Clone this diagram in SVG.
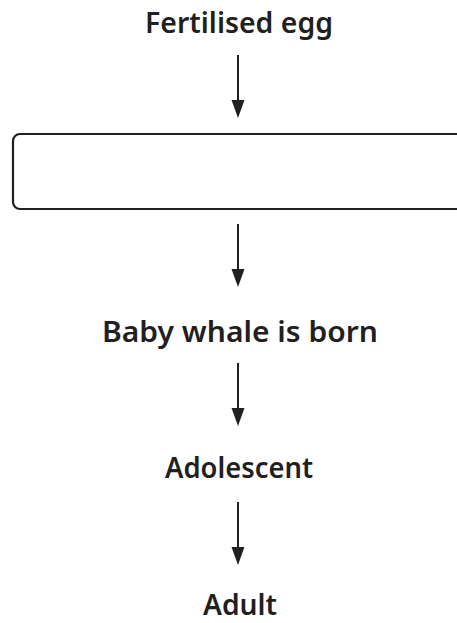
<svg xmlns="http://www.w3.org/2000/svg" width="457" height="623" viewBox="0 0 457 623">
<style>
.t{font-family:"Noto Sans","Open Sans",sans-serif;font-weight:600;font-size:28px;fill:#231f20;text-anchor:middle}
.c{stroke:#231f20;stroke-width:2;fill:none}
.h{fill:#231f20}
</style>
<rect width="457" height="623" fill="#fff"/>
<g id="n1"><text class="t" x="239" y="33" textLength="188" lengthAdjust="spacingAndGlyphs">Fertilised egg</text></g>
<g id="n2"><rect x="13" y="134" width="460" height="75" rx="7" fill="#fff" stroke="#231f20" stroke-width="2.2"/></g>
<g id="n3"><text class="t" x="240" y="342" textLength="276" lengthAdjust="spacingAndGlyphs">Baby whale is born</text></g>
<g id="n4"><text class="t" x="239" y="478" textLength="148" lengthAdjust="spacingAndGlyphs">Adolescent</text></g>
<g id="n5"><text class="t" x="240" y="615" textLength="74" lengthAdjust="spacingAndGlyphs">Adult</text></g>
<g id="connectors">
<line class="c" x1="238" y1="55" x2="238" y2="100"/><path class="h" d="M231.5,100 L244.5,100 L238,118 Z"/>
<line class="c" x1="238" y1="224" x2="238" y2="270"/><path class="h" d="M231.5,269 L244.5,269 L238,287 Z"/>
<line class="c" x1="238" y1="363" x2="238" y2="409"/><path class="h" d="M231.5,408 L244.5,408 L238,426 Z"/>
<line class="c" x1="238" y1="502" x2="238" y2="548"/><path class="h" d="M231.5,547 L244.5,547 L238,565 Z"/>
</g>
</svg>
